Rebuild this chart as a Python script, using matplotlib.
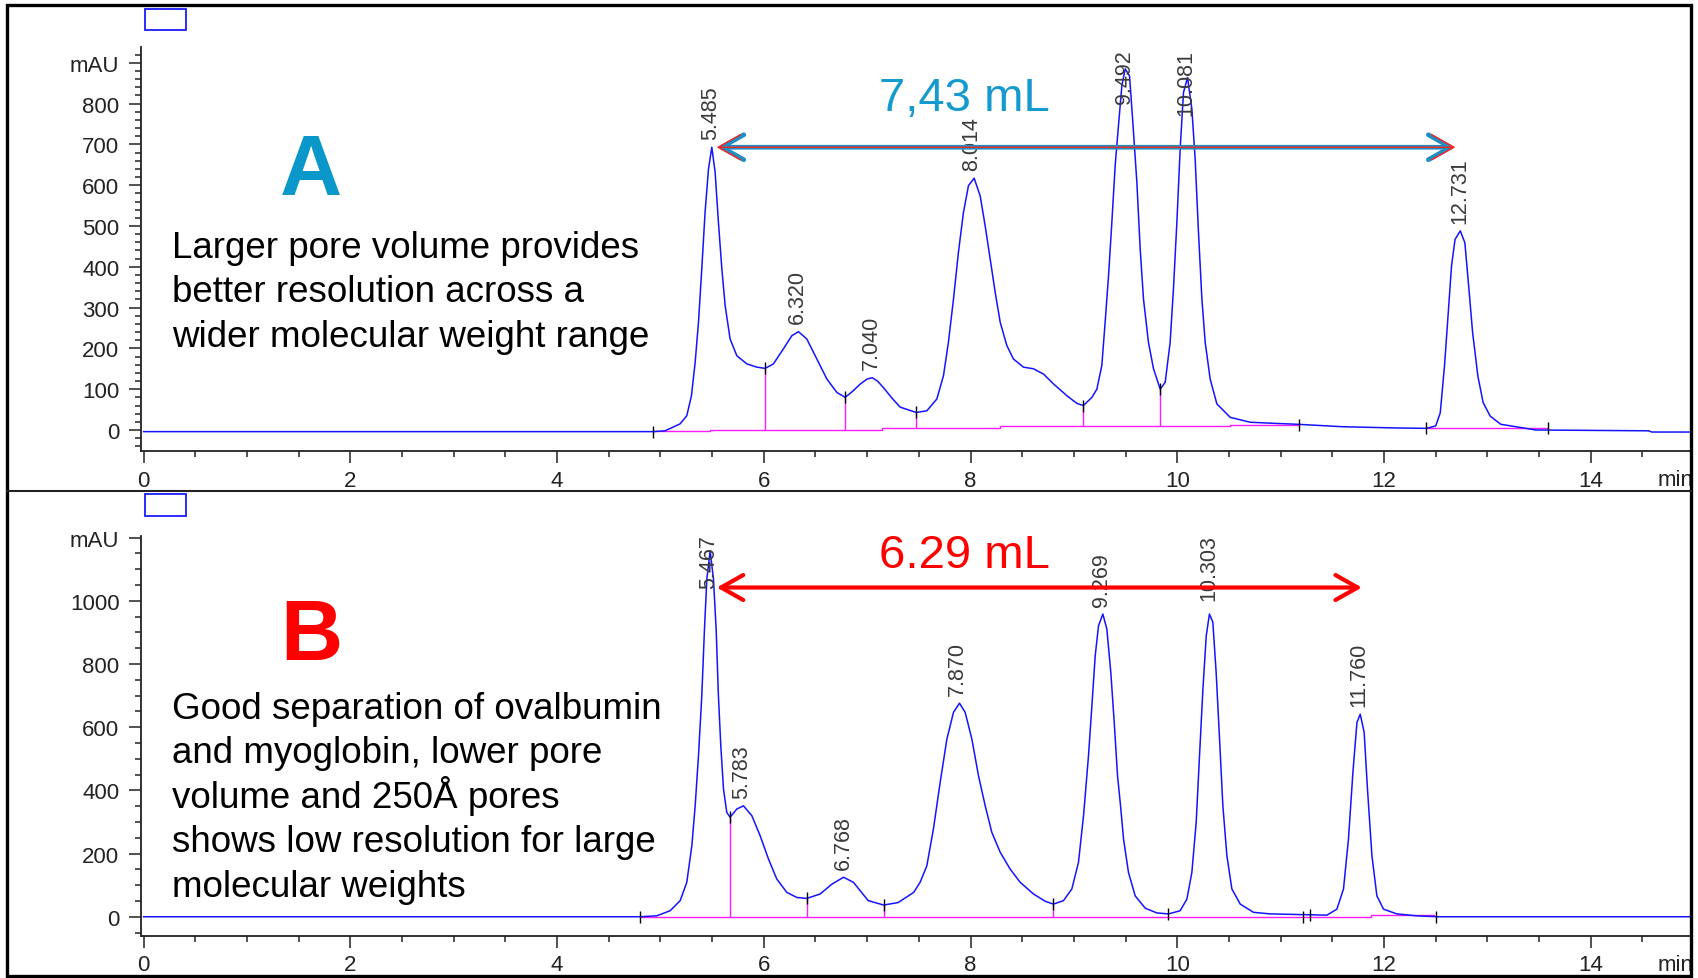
import matplotlib.pyplot as plt
from matplotlib.lines import Line2D
from matplotlib.patches import Rectangle
from matplotlib.ticker import MultipleLocator
import numpy as np

plt.rcParams['font.family'] = ['Liberation Sans', 'DejaVu Sans']

W, H = 1699, 979   # figure size in pixels

#---------------------------------------------------------------------------------
# Chromatogram A

A_time = [0.0, 4.93, 5.045, 5.19, 5.255, 5.30, 5.336, 5.368, 5.40, 5.432,
          5.465, 5.497, 5.529, 5.561, 5.594, 5.626, 5.674, 5.739, 5.836, 5.933,
          6.013, 6.093, 6.19, 6.271, 6.335, 6.416, 6.513, 6.61, 6.707, 6.787,
          6.86, 6.93, 7.00, 7.05, 7.10, 7.17, 7.24, 7.319, 7.474, 7.577,
          7.674, 7.738, 7.786, 7.835, 7.883, 7.932, 7.98, 8.035, 8.093, 8.141,
          8.19, 8.238, 8.287, 8.351, 8.415, 8.512, 8.609, 8.706, 8.802, 8.932,
          9.03, 9.092, 9.174, 9.222, 9.27, 9.302, 9.335, 9.367, 9.399, 9.431,
          9.464, 9.496, 9.538, 9.57, 9.609, 9.641, 9.673, 9.721, 9.77, 9.835,
          9.883, 9.931, 9.963, 9.996, 10.028, 10.06, 10.099, 10.141, 10.173, 10.205,
          10.238, 10.27, 10.318, 10.383, 10.512, 10.705, 10.963, 11.16, 11.60, 12.11,
          12.41, 12.50, 12.544, 12.585, 12.619, 12.653, 12.687, 12.738, 12.782, 12.816,
          12.857, 12.908, 12.959, 13.027, 13.129, 13.30, 13.47, 14.56, 14.59, 14.96]
A_mau = [-4, -4, -2, 15, 35, 84, 166, 264, 395, 534,
         640, 693, 632, 509, 395, 305, 223, 182, 162, 154,
         151, 162, 199, 231, 241, 223, 174, 125, 92, 80,
         95, 112, 125, 128, 120, 100, 78, 56, 43, 47,
         76, 133, 215, 321, 436, 534, 599, 617, 574, 501,
         419, 338, 264, 207, 174, 154, 150, 137, 113, 84,
         65, 60, 80, 100, 158, 264, 378, 509, 648, 746,
         844, 885, 868, 754, 607, 444, 321, 215, 150, 100,
         117, 215, 346, 509, 689, 827, 864, 787, 664, 485,
         321, 215, 125, 64, 31, 19, 16, 14, 8, 5,
         4, 10, 42, 157, 279, 402, 467, 488, 459, 361,
         239, 132, 67, 34, 14, 7, 0, -2, -5, -5]

# integration baseline (magenta) pieces
A_base1_t = [4.93, 5.48, 7.14, 8.287, 10.51, 11.18]
A_base1_v = [-3, 0, 4, 9, 13, 13]
A_base2_t = [12.41, 13.59]
A_base2_v = [4, 4]

# drop lines at the valleys
A_drop_t = [6.013, 6.787, 7.474, 9.092, 9.835]
A_drop_lo = [0, 0, 4, 9, 9]
A_drop_hi = [151, 80, 43, 60, 100]

# peak start/end marks
A_mark_t = [4.93, 6.013, 6.787, 7.474, 9.092, 9.835, 11.18, 12.41, 13.59]
A_mark_v = [-4, 151, 80, 43, 60, 100, 13, 4, 4]

A_peak_rt = [5.485, 6.320, 7.040, 8.014, 9.492, 10.081, 12.731]
A_peak_h = [693, 241, 128, 617, 885, 864, 488]
A_peak_lbl = ['5.485', '6.320', '7.040', '8.014', '9.492', '10.081', '12.731']

#---------------------------------------------------------------------------------
# Chromatogram B

B_time = [0.0, 4.80, 4.965, 5.094, 5.191, 5.255, 5.304, 5.336, 5.368, 5.40,
          5.426, 5.449, 5.481, 5.513, 5.539, 5.561, 5.584, 5.61, 5.642, 5.674,
          5.739, 5.803, 5.884, 5.965, 6.045, 6.126, 6.223, 6.32, 6.416, 6.545,
          6.658, 6.771, 6.867, 7.01, 7.16, 7.30, 7.45, 7.512, 7.577, 7.641,
          7.706, 7.771, 7.835, 7.893, 7.948, 8.013, 8.077, 8.142, 8.206, 8.287,
          8.383, 8.48, 8.609, 8.722, 8.802, 8.899, 8.98, 9.044, 9.093, 9.141,
          9.174, 9.206, 9.238, 9.28, 9.319, 9.357, 9.39, 9.422, 9.45, 9.48,
          9.528, 9.593, 9.69, 9.803, 9.915, 10.028, 10.093, 10.141, 10.183, 10.215,
          10.248, 10.28, 10.311, 10.344, 10.376, 10.409, 10.441, 10.48, 10.528, 10.609,
          10.737, 10.899, 11.447, 11.544, 11.608, 11.656, 11.699, 11.738, 11.77, 11.808,
          11.84, 11.883, 11.931, 11.995, 12.124, 12.31, 12.52, 14.96]
B_mau = [0, 0, 3, 19, 51, 109, 225, 351, 509, 699,
         910, 1069, 1158, 1069, 910, 699, 541, 404, 330, 315,
         341, 351, 320, 256, 183, 119, 77, 61, 58, 72,
         103, 125, 109, 51, 37, 45, 77, 109, 161, 278,
         425, 562, 647, 676, 647, 562, 446, 351, 267, 204,
         151, 109, 72, 49, 40, 51, 88, 172, 320, 509,
         668, 826, 921, 958, 910, 773, 615, 446, 355, 246,
         140, 66, 27, 12, 9, 19, 56, 140, 299, 509,
         721, 889, 958, 932, 773, 562, 351, 193, 88, 40,
         14, 9, 5, 24, 88, 246, 457, 615, 641, 583,
         404, 193, 66, 24, 9, 3, 0, 0]

B_base_t = [4.80, 11.87, 12.48]
B_base_v = [0, 6, 6]

B_drop_t = [5.674, 6.416, 7.16, 8.802]
B_drop_lo = [0, 0, 0, 0]
B_drop_hi = [315, 58, 37, 40]

B_mark_t = [4.80, 5.674, 6.416, 7.16, 8.802, 9.915, 11.22, 11.28, 12.50]
B_mark_v = [0, 315, 58, 37, 40, 9, 0, 5, 0]

B_peak_rt = [5.467, 5.783, 6.768, 7.870, 9.269, 10.303, 11.760]
B_peak_h = [1158, 351, 125, 676, 958, 958, 641]
B_peak_lbl = ['5.467', '5.783', '6.768', '7.870', '9.269', '10.303', '11.760']

#---------------------------------------------------------------------------------
# Texts

A_lines = ['Larger pore volume provides', 'better resolution across a',
           'wider molecular weight range']
B_lines = ['Good separation of ovalbumin', 'and myoglobin, lower pore',
           'volume and 250Å pores', 'shows low resolution for large',
           'molecular weights']

#---------------------------------------------------------------------------------
# Helpers

def fx(x):
    return x / W

def fy(y):
    return 1 - y / H

def panel(ax, t, v, base, drops, marks, peaks, ylim, ymajor, yminor, top_lim):
    ax.set_xlim(-0.025, 14.96)
    ax.set_ylim(*ylim)
    ax.plot(t, v, color='#1414ff', lw=1.1, zorder=3)
    for bt, bv in base:
        ax.plot(bt, bv, color='#ff1aff', lw=1.0, drawstyle='steps-post', zorder=2)
    ax.vlines(drops[0], drops[1], drops[2], color='#ff1aff', lw=1.0, zorder=2)
    ax.plot(marks[0], marks[1], ls='none', marker='|', ms=9, mew=1.0,
            color='black', zorder=4)

    # peak labels, pushed down under the top edge when there is no room
    ppu = ax.bbox.height / (ylim[1] - ylim[0])
    for rt, h, lbl in zip(*peaks):
        if h + (12.5 * len(lbl) + 10) / ppu > top_lim:
            ax.text(rt, top_lim, lbl, rotation=90, ha='center', va='top',
                    fontsize=15.5, color='#3a3a3a', zorder=5, clip_on=False)
        else:
            ax.annotate(lbl, (rt, h), xytext=(0, 6), textcoords='offset points',
                        rotation=90, ha='center', va='bottom', fontsize=15.5,
                        color='#3a3a3a', zorder=5)

    for s in ['top', 'right']:
        ax.spines[s].set_visible(False)
    for s in ['left', 'bottom']:
        ax.spines[s].set_color('#222222')
        ax.spines[s].set_linewidth(1.3)

    ax.xaxis.set_minor_locator(MultipleLocator(0.5))
    ax.set_xticks(np.arange(0, 15, 2))
    ax.set_xticklabels([str(k) for k in range(0, 15, 2)])
    yt = np.arange(0, ymajor[1] + 1, ymajor[0])
    ax.set_yticks(yt)
    ax.set_yticklabels([str(k) for k in yt[:-1]] + ['mAU'])
    ax.get_yticklabels()[-1].set_fontsize(13.5)
    ax.yaxis.set_minor_locator(MultipleLocator(yminor))
    ax.tick_params(which='major', direction='out', length=8.5, width=1.1,
                   color='#222222', labelsize=16, labelcolor='#222222')
    ax.tick_params(axis='y', which='major', pad=7)
    ax.tick_params(axis='x', which='major', pad=5)
    ax.tick_params(which='minor', direction='out', length=4.3, width=1.1,
                   color='#222222')
    ax.text(14.82, -0.045, 'min', transform=ax.get_xaxis_transform(),
            ha='center', va='top', fontsize=16, color='#222222')


#---------------------------------------------------------------------------------
# Figure

fig = plt.figure(figsize=(W / 100, H / 100), dpi=100)

axA = fig.add_axes([fx(141), fy(452), fx(1690) - fx(141), fy(48) - fy(452)])
axB = fig.add_axes([fx(141), fy(936.7), fx(1690) - fx(141), fy(536.7) - fy(936.7)])

panel(axA, A_time, A_mau,
      [(A_base1_t, A_base1_v), (A_base2_t, A_base2_v)],
      (A_drop_t, A_drop_lo, A_drop_hi), (A_mark_t, A_mark_v),
      (A_peak_rt, A_peak_h, A_peak_lbl),
      (-51.5, 938.7), (100, 900), 20, 934)

panel(axB, B_time, B_mau,
      [(B_base_t, B_base_v)],
      (B_drop_t, B_drop_lo, B_drop_hi), (B_mark_t, B_mark_v),
      (B_peak_rt, B_peak_h, B_peak_lbl),
      (-60, 1206), (200, 1200), 50, 1210)

# arrows
axA.annotate('', xy=(12.69, 693), xytext=(5.545, 693),
             arrowprops=dict(arrowstyle='<->,head_length=0.8,head_width=0.45',
                             color='#1f8fbf', lw=3.4, shrinkA=0, shrinkB=0,
                             mutation_scale=20), zorder=6)
axA.annotate('', xy=(12.69, 693), xytext=(5.545, 693),
             arrowprops=dict(arrowstyle='<->,head_length=0.8,head_width=0.45',
                             color='#ff2020', lw=1.0, shrinkA=0, shrinkB=0,
                             mutation_scale=20), zorder=7)
axB.annotate('', xy=(11.786, 1042), xytext=(5.545, 1042),
             arrowprops=dict(arrowstyle='<->,head_length=0.8,head_width=0.45',
                             color='#ff0000', lw=3.0, shrinkA=0, shrinkB=0,
                             mutation_scale=20), zorder=6)

fig.text(fx(878.6), fy(111), '7,43 mL', fontsize=34, color='#159ad0',
         ha='left', va='baseline', zorder=8)
fig.text(fx(878.6), fy(568), '6.29 mL', fontsize=34, color='#ff0000',
         ha='left', va='baseline', zorder=8)

fig.text(fx(311), fy(195), 'A', fontsize=62, fontweight='bold',
         color='#0a97c9', ha='center', va='baseline')
fig.text(fx(311), fy(660), 'B', fontsize=62, fontweight='bold',
         color='#ff0000', ha='center', va='baseline')

for i, line in enumerate(A_lines):
    fig.text(fx(172), fy(258 + 44.4 * i), line, fontsize=26.5, color='black',
             ha='left', va='baseline')
for i, line in enumerate(B_lines):
    fig.text(fx(172), fy(719 + 44.5 * i), line, fontsize=26.5, color='black',
             ha='left', va='baseline')

# legend boxes
fig.add_artist(Rectangle((fx(145), fy(31)), fx(186) - fx(145), fy(10) - fy(31),
                         fill=False, edgecolor='#1a1aff', lw=1.3,
                         transform=fig.transFigure))
fig.add_artist(Rectangle((fx(145), fy(517)), fx(186) - fx(145), fy(495) - fy(517),
                         fill=False, edgecolor='#1a1aff', lw=1.3,
                         transform=fig.transFigure))

# outer frame and divider
fig.add_artist(Rectangle((fx(7.5), fy(977)), fx(1691) - fx(7.5), fy(6) - fy(977),
                         fill=False, edgecolor='black', lw=2.4,
                         transform=fig.transFigure, zorder=10))
fig.add_artist(Line2D([fx(7.5), fx(1691)], [fy(492), fy(492)], color='#222222',
                      lw=1.5, transform=fig.transFigure, zorder=10))

fig.savefig('out.png', dpi=100, facecolor='white')
